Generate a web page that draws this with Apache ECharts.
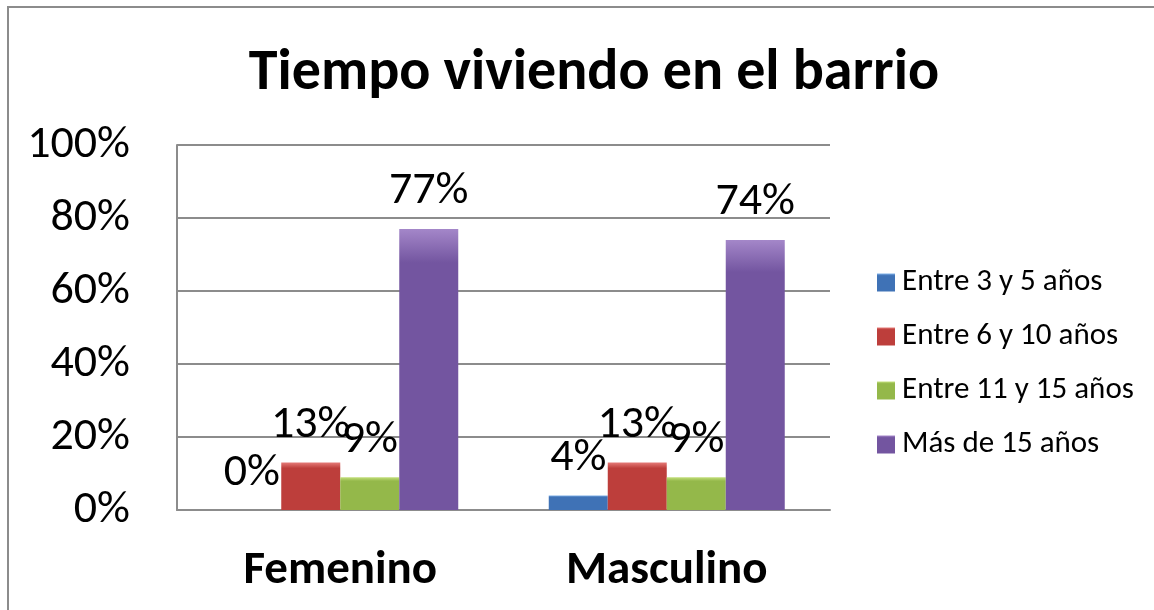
<!DOCTYPE html>
<html lang="es">
<head>
    <meta charset="UTF-8">
    <title>Tiempo viviendo en el barrio</title>
    <script src="https://cdn.jsdelivr.net/npm/echarts@6.0.0/dist/echarts.min.js"></script>
    <style>
        body { margin: 0; background: #fff; }
        #chart { width: 1154px; height: 610px; }
    </style>
</head>
<body>
    <div id="chart"></div>
    <script>
        // datos
        const categories = ['Femenino', 'Masculino'];
        const seriesNames = ['Entre 3 y 5 años', 'Entre 6 y 10 años', 'Entre 11 y 15 años', 'Más de 15 años'];
        const entre3y5 = [0, 4];
        const entre6y10 = [13, 13];
        const entre11y15 = [9, 9];
        const masDe15 = [77, 74];
        const yTicks = [0, 20, 40, 60, 80, 100];

        const values = [entre3y5, entre6y10, entre11y15, masDe15];
        const colors = [
            ['#7fb0e8', '#3f72b6'],
            ['#e57a77', '#bd3e3b'],
            ['#c4e07c', '#94b84a'],
            ['#a487c9', '#7355a0']
        ];
        const font = 'Carlito, Calibri, Lato, sans-serif';

        const chart = echarts.init(document.getElementById('chart'));

        const series = seriesNames.map((name, i) => ({
            name: name,
            type: 'bar',
            data: values[i],
            barWidth: 59,
            barGap: '0%',
            itemStyle: {
                color: new echarts.graphic.LinearGradient(0, 0, 0, 1, [
                    { offset: 0, color: colors[i][0] },
                    { offset: 0.12, color: colors[i][1] },
                    { offset: 1, color: colors[i][1] }
                ])
            },
            label: {
                show: true,
                position: 'top',
                distance: 14,
                formatter: p => p.value + '%',
                fontFamily: font,
                fontSize: 46,
                lineHeight: 46,
                color: '#000'
            }
        }));

        chart.setOption({
            animation: false,
            title: {
                text: 'Tiempo viviendo en el barrio',
                left: 589,
                textAlign: 'center',
                top: 40,
                textStyle: {
                    fontFamily: font,
                    fontSize: 58,
                    fontWeight: 'bold',
                    color: '#000'
                }
            },
            legend: {
                orient: 'vertical',
                left: 872,
                top: 262,
                itemWidth: 18,
                itemHeight: 18,
                itemGap: 23,
                icon: 'rect',
                data: seriesNames,
                textStyle: {
                    fontFamily: font,
                    fontSize: 31,
                    lineHeight: 31,
                    color: '#000',
                    padding: [0, 0, 0, 2]
                }
            },
            grid: {
                left: 177,
                right: 1154 - 830,
                top: 145,
                bottom: 610 - 510
            },
            xAxis: {
                type: 'category',
                data: categories,
                axisTick: { show: false },
                axisLine: { lineStyle: { color: '#8c8c8c', width: 2 } },
                axisLabel: {
                    margin: 38,
                    fontFamily: font,
                    fontSize: 47,
                    fontWeight: 'bold',
                    color: '#000'
                }
            },
            yAxis: {
                type: 'value',
                min: yTicks[0],
                max: yTicks[yTicks.length - 1],
                interval: 20,
                axisLine: { show: true, lineStyle: { color: '#8c8c8c', width: 2 } },
                axisTick: { show: false },
                splitLine: { lineStyle: { color: '#8c8c8c', width: 2 } },
                axisLabel: {
                    margin: 47,
                    formatter: v => v + '%',
                    fontFamily: font,
                    fontSize: 46,
                    color: '#000'
                }
            },
            graphic: [{
                type: 'rect',
                shape: { x: 8, y: 7, width: 1200, height: 700 },
                style: { fill: null, stroke: '#8c8c8c', lineWidth: 2 },
                silent: true
            }],
            series: series
        });
    </script>
</body>
</html>
